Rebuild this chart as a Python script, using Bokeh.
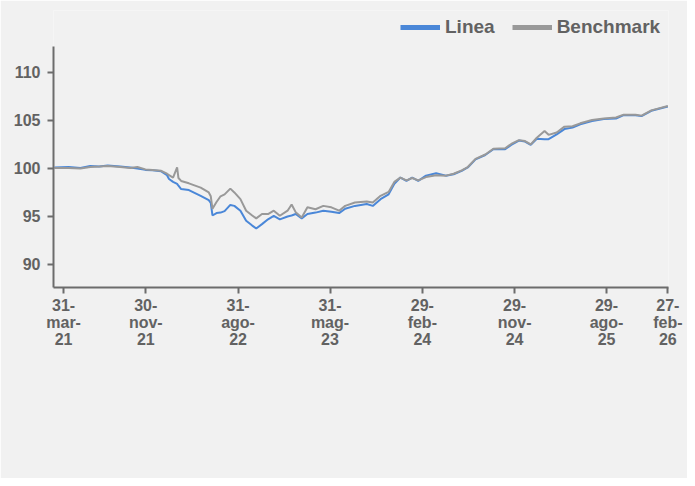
import pandas as pd
from bokeh.plotting import figure
from bokeh.models import Range1d, FixedTicker, Legend, LegendItem, ColumnDataSource
from bokeh.embed import file_html
from bokeh.resources import INLINE

dates = [
    "2021-03-04", "2021-04-15", "2021-05-20", "2021-06-18", "2021-07-15", "2021-08-09",
    "2021-09-15", "2021-10-15", "2021-11-05", "2021-11-29", "2021-12-20", "2022-01-15",
    "2022-02-01", "2022-02-07", "2022-02-19", "2022-03-03", "2022-03-07", "2022-03-15",
    "2022-04-07", "2022-05-12", "2022-06-05", "2022-06-11", "2022-06-16", "2022-06-28",
    "2022-07-10", "2022-07-22", "2022-08-08", "2022-08-20", "2022-09-07", "2022-09-24",
    "2022-10-12", "2022-10-24", "2022-11-10", "2022-11-28", "2022-12-15", "2023-01-02",
    "2023-01-25", "2023-02-06", "2023-02-18", "2023-03-08", "2023-03-25", "2023-04-18",
    "2023-05-11", "2023-06-04", "2023-06-27", "2023-07-15", "2023-08-13", "2023-09-17",
    "2023-10-05", "2023-10-28", "2023-11-21", "2023-12-08", "2023-12-26", "2024-01-13",
    "2024-01-30", "2024-02-17", "2024-03-11", "2024-04-10", "2024-05-09", "2024-06-01",
    "2024-06-25", "2024-07-13", "2024-08-05", "2024-09-03", "2024-09-27", "2024-11-01",
    "2024-11-19", "2024-12-12", "2024-12-30", "2025-01-16", "2025-02-03", "2025-02-26",
    "2025-03-10", "2025-04-03", "2025-04-26", "2025-05-20", "2025-06-12", "2025-07-17",
    "2025-08-21", "2025-09-26", "2025-10-19", "2025-11-23", "2025-12-11", "2026-01-09",
    "2026-02-27",
]
linea = [
    100.10, 100.15, 100.05, 100.25, 100.20, 100.30,
    100.20, 100.10, 100.00, 99.85, 99.80, 99.70,
    99.30, 98.90, 98.60, 98.40, 98.20, 97.85,
    97.75, 97.15, 96.70, 96.40, 95.10, 95.35,
    95.40, 95.55, 96.20, 96.10, 95.60, 94.55,
    94.05, 93.75, 94.20, 94.70, 95.05, 94.70,
    95.00, 95.10, 95.25, 94.80, 95.25, 95.40,
    95.60, 95.50, 95.35, 95.80, 96.10, 96.30,
    96.10, 96.80, 97.30, 98.40, 99.05, 98.70,
    99.05, 98.70, 99.25, 99.50, 99.25, 99.40,
    99.75, 100.10, 100.95, 101.40, 102.00, 102.00,
    102.45, 102.90, 102.80, 102.45, 103.10, 103.05,
    103.05, 103.55, 104.10, 104.25, 104.60, 104.95,
    105.15, 105.20, 105.55, 105.55, 105.45, 106.00,
    106.45,
]
benchmark = [
    100.05, 100.05, 100.00, 100.15, 100.20, 100.25,
    100.15, 100.05, 100.15, 99.90, 99.85, 99.75,
    99.45, 99.30, 99.05, 100.10, 99.00, 98.70,
    98.45, 98.00, 97.50, 97.10, 95.80, 96.50,
    97.10, 97.30, 97.90, 97.50, 96.80, 95.60,
    95.10, 94.80, 95.25, 95.25, 95.60, 95.07,
    95.60, 96.25, 95.45, 94.90, 95.95, 95.75,
    96.10, 95.95, 95.60, 96.10, 96.45, 96.55,
    96.45, 97.15, 97.55, 98.60, 99.05, 98.75,
    99.00, 98.75, 99.10, 99.30, 99.25, 99.45,
    99.80, 100.15, 101.00, 101.45, 102.05, 102.10,
    102.55, 102.95, 102.85, 102.50, 103.20, 103.90,
    103.50, 103.75, 104.35, 104.40, 104.70, 105.05,
    105.20, 105.30, 105.60, 105.60, 105.50, 106.05,
    106.50,
]
tick_dates = ["2021-03-31", "2021-11-30", "2022-08-31", "2023-05-31",
              "2024-02-29", "2024-11-29", "2025-08-29", "2026-02-27"]
tick_labels = ["31-\nmar-\n21", "30-\nnov-\n21", "31-\nago-\n22", "31-\nmag-\n23",
               "29-\nfeb-\n24", "29-\nnov-\n24", "29-\nago-\n25", "27-\nfeb-\n26"]
y_ticks = [90, 95, 100, 105, 110]

origin = pd.Timestamp("2021-03-31")


def day(s):
    return int((pd.Timestamp(s) - origin).days)


x = [day(d) for d in dates]
tx = [day(d) for d in tick_dates]

BLUE = "#4a87d8"
GRAY = "#999999"
TEXT = "#626262"
AXIS = "#6c6c6c"
BG = "#f1f1f1"

Y_LO, Y_HI = 87.6, 112.7
# frame extends above the axis so the legend can sit over the plot area
Y_TOP = 116.45

p = figure(width=687, height=478, output_backend="svg", toolbar_location=None,
           x_range=Range1d(day("2021-03-01"), day("2026-02-27") + 2),
           y_range=Range1d(Y_LO, Y_TOP),
           min_border_left=53, min_border_right=19, min_border_top=10,
           min_border_bottom=191)
p.background_fill_color = BG
p.border_fill_color = BG
p.outline_line_color = None
p.xgrid.visible = False
p.ygrid.visible = False

src = ColumnDataSource(dict(x=x, linea=linea, benchmark=benchmark))
p.line("x", "linea", source=src, line_color=BLUE, line_width=2)
p.line("x", "benchmark", source=src, line_color=GRAY, line_width=2)

p.xaxis.ticker = FixedTicker(ticks=tx)
p.xaxis.major_label_overrides = dict(zip(tx, tick_labels))
p.yaxis.ticker = FixedTicker(ticks=y_ticks)
p.yaxis.bounds = (Y_LO, Y_HI)

for ax in p.axis:
    ax.axis_line_color = AXIS
    ax.axis_line_width = 2
    ax.major_tick_line_color = AXIS
    ax.major_tick_line_width = 2
    ax.major_tick_out = 6
    ax.major_tick_in = 0
    ax.minor_tick_out = 0
    ax.minor_tick_in = 0
    ax.major_label_text_font = "Liberation Sans"
    ax.major_label_text_font_style = "bold"
    ax.major_label_text_color = TEXT
p.xaxis.major_label_text_font_size = "16px"
p.xaxis.major_label_text_line_height = 1.0
p.xaxis.major_label_standoff = 3
p.yaxis.major_label_text_font_size = "16px"
p.yaxis.major_label_standoff = 7

nan = float("nan")
d1 = p.line([nan], [nan], line_color=BLUE, line_width=5)
d2 = p.line([nan], [nan], line_color=GRAY, line_width=5)
legend = Legend(items=[LegendItem(label="Linea", renderers=[d1]),
                       LegendItem(label="Benchmark", renderers=[d2])],
                orientation="horizontal", location=(347, 249),
                glyph_width=40, glyph_height=20, label_standoff=5, spacing=17,
                padding=0, margin=0, border_line_color=None,
                background_fill_alpha=0,
                label_text_font="Liberation Sans", label_text_font_style="bold",
                label_text_font_size="19px", label_text_color=TEXT)
p.add_layout(legend)

open("out.html", "w").write(file_html(p, INLINE))
